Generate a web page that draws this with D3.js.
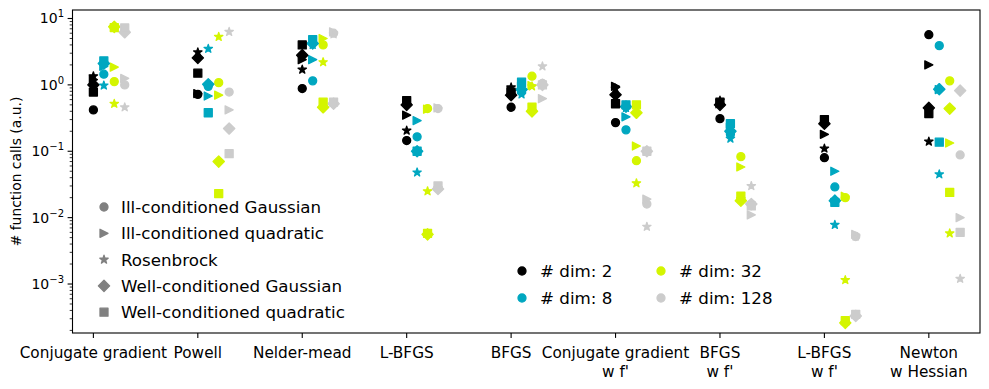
<!DOCTYPE html>
<html><head><meta charset="utf-8">
<script src="https://cdn.jsdelivr.net/npm/d3@7/dist/d3.min.js"></script>
<style>body{margin:0;background:#fff} text{font-family:"DejaVu Sans",sans-serif}</style>
</head><body><svg id="c" width="989" height="389"></svg>
<script>
const categories = ["Conjugate gradient","Powell","Nelder-mead","L-BFGS","BFGS","Conjugate gradient\nw f'","BFGS\nw f'","L-BFGS\nw f'","Newton\nw Hessian"];
const problems = ["Ill-conditioned Gaussian","Ill-conditioned quadratic","Rosenbrock","Well-conditioned Gaussian","Well-conditioned quadratic"];
const markers = ["circle","triangle","star","diamond","square"];
const dims = ["2","8","32","128"];
const dimColors = ["#000000","#00a7c0","#d4f500","#cccccc"];

// dim 2
const d2_gauss   = [0.42, 0.72, 0.88, 0.145, 0.46, 0.27, 0.31, 0.080, 5.7];
const d2_quad    = [1.2, 0.74, 2.4, 0.35, 0.82, 0.95, 0.52, 0.18, 2.0];
const d2_rosen   = [1.35, 3.1, 1.7, 0.205, 0.92, 0.88, 0.58, 0.11, 0.14];
const d2_wgauss  = [1.0, 2.55, 2.8, 0.50, 0.70, 0.71, 0.50, 0.26, 0.45];
const d2_wquad   = [0.78, 1.5, 4.0, 0.58, 0.78, 0.52, 0.55, 0.30, 0.37];
// dim 8
const d8_gauss   = [1.45, 0.95, 1.15, 0.165, 0.78, 0.21, 0.18, 0.029, 3.9];
const d8_quad    = [1.9, 0.68, 2.4, 0.29, 0.95, 0.33, 0.23, 0.050, 0.85];
const d8_rosen   = [0.98, 3.5, 4.0, 0.048, 0.72, 0.45, 0.155, 0.0078, 0.045];
const d8_wgauss  = [2.1, 1.02, 4.2, 0.10, 0.85, 0.47, 0.20, 0.018, 0.86];
const d8_wquad   = [2.3, 0.38, 4.8, 0.10, 1.1, 0.50, 0.26, 0.017, 0.137];
// dim 32
const d32_gauss  = [1.12, 1.08, 4.0, 0.44, 1.35, 0.072, 0.083, 0.020, 1.15];
const d32_quad   = [1.85, 0.70, 5.0, 0.43, 0.98, 0.12, 0.058, 0.021, 0.133];
const d32_rosen  = [0.52, 5.3, 2.2, 0.025, 0.95, 0.033, 0.019, 0.00115, 0.0058];
const d32_wgauss = [7.5, 0.07, 0.46, 0.0056, 0.40, 0.38, 0.018, 0.00026, 0.44];
const d32_wquad  = [7.3, 0.023, 0.55, 0.0058, 0.46, 0.50, 0.021, 0.00028, 0.024];
// dim 128
const d128_gauss  = [1.0, 0.78, 6.0, 0.44, 1.05, 0.016, 0.016, 0.0052, 0.088];
const d128_quad   = [1.25, 0.42, 6.3, 0.45, 0.62, 0.019, 0.011, 0.0056, 0.010];
const d128_rosen  = [0.46, 6.3, 5.8, 0.028, 1.9, 0.0073, 0.030, 0.0052, 0.0012];
const d128_wgauss = [6.2, 0.22, 0.52, 0.027, 1.0, 0.10, 0.016, 0.00033, 0.82];
const d128_wquad  = [7.2, 0.092, 0.55, 0.030, 1.0, 0.10, 0.015, 0.00035, 0.006];

const yTicks = [10, 1, 0.1, 0.01, 0.001];
const yTickExp = ["1","0","\u22121","\u22122","\u22123"];

const series = [
  [d2_gauss, d2_quad, d2_rosen, d2_wgauss, d2_wquad],
  [d8_gauss, d8_quad, d8_rosen, d8_wgauss, d8_wquad],
  [d32_gauss, d32_quad, d32_rosen, d32_wgauss, d32_wquad],
  [d128_gauss, d128_quad, d128_rosen, d128_wgauss, d128_wquad]
];

const L = 72.5, R = 980, T = 10, B = 333;
const svg = d3.select("#c");
const x = d3.scaleLinear().domain([-0.2, 8.49]).range([L, R]);
const y = d3.scaleLog().domain([Math.pow(10,-3.738), Math.pow(10,1.128)]).range([B, T]);
const dimOffset = 0.1;

const S = 8;
function markerPath(m){
  const h = S/2;
  if (m==="circle") return d3.path ? (()=>{const p=d3.path();p.arc(0,0,h,0,2*Math.PI);p.closePath();return p.toString();})() : "";
  if (m==="triangle") return `M${h},0L${-h},${-h}L${-h},${h}Z`;
  if (m==="square") return `M${-h},${-h}H${h}V${h}H${-h}Z`;
  if (m==="diamond"){ const d=h*Math.SQRT2; return `M0,${-d}L${d},0L0,${d}L${-d},0Z`; }
  if (m==="star"){
    const ro=h+0.4, ri=ro*0.381966; let pts=[];
    for(let i=0;i<10;i++){const r=i%2?ri:ro; const a=-Math.PI/2+i*Math.PI/5; pts.push([r*Math.cos(a), r*Math.sin(a)]);}
    return "M"+pts.map(p=>p[0].toFixed(2)+","+p[1].toFixed(2)).join("L")+"Z";
  }
}

// points
const pts = [];
markers.forEach((m, pi) => {
  dims.forEach((d, di) => {
    series[di][pi].forEach((v, ci) => pts.push({m, di, ci, v}));
  });
});
svg.append("g").selectAll("path").data(pts).join("path")
  .attr("d", d => markerPath(d.m))
  .attr("transform", d => `translate(${x(d.ci + d.di*dimOffset)},${y(d.v)})`)
  .attr("fill", d => dimColors[d.di])
  .attr("stroke", d => dimColors[d.di])
  .attr("stroke-width", 1.3)
  .attr("stroke-linejoin", "round");

// frame
svg.append("rect").attr("x", L).attr("y", T).attr("width", R-L).attr("height", B-T)
  .attr("fill","none").attr("stroke","#000").attr("stroke-width",1.1);

// y axis ticks
const gy = svg.append("g");
const minor = [];
for (let e=-4; e<=1; e++) for (let k=2;k<=9;k++){ const v=k*Math.pow(10,e); if (y(v)>=T && y(v)<=B) minor.push(v); }
gy.selectAll("line.mn").data(minor).join("line").attr("x1",L).attr("x2",L-2.8)
  .attr("y1",d=>y(d)).attr("y2",d=>y(d)).attr("stroke","#000").attr("stroke-width",0.8);
gy.selectAll("line.mj").data(yTicks).join("line").attr("x1",L).attr("x2",L-4.9)
  .attr("y1",d=>y(d)).attr("y2",d=>y(d)).attr("stroke","#000").attr("stroke-width",1.1);
const yl = gy.selectAll("text").data(yTicks).join("text")
  .attr("x", L-8.5).attr("y", d=>y(d)+5).attr("text-anchor","end").attr("font-size",14);
yl.append("tspan").text("10");
yl.append("tspan").attr("dy",-6).attr("font-size",10).text((d,i)=>yTickExp[i]);

// x axis ticks
const gx = svg.append("g");
gx.selectAll("line").data(categories).join("line")
  .attr("x1",(d,i)=>x(i)).attr("x2",(d,i)=>x(i)).attr("y1",B).attr("y2",B+4.9)
  .attr("stroke","#000").attr("stroke-width",1.1);
const xt = gx.selectAll("text").data(categories).join("text")
  .attr("x",(d,i)=>x(i)).attr("y",B+25).attr("text-anchor","middle").attr("font-size",15.3);
xt.selectAll("tspan").data(d=>d.split("\n")).join("tspan")
  .attr("x", function(){ return this.parentNode.getAttribute("x"); })
  .attr("dy",(d,i)=>i?18.5:0).text(d=>d);

// y label
svg.append("text").attr("transform",`translate(21,${(T+B)/2}) rotate(-90)`)
  .attr("text-anchor","middle").attr("font-size",13.9).text("# function calls (a.u.)");

// legend 1 (problems)
const lg1 = svg.append("g");
problems.forEach((p,i)=>{
  const yy = 207 + i*26.3;
  lg1.append("path").attr("d", markerPath(markers[i])).attr("transform",`translate(104,${yy})`)
    .attr("fill","#808080").attr("stroke","#808080").attr("stroke-width",1.3).attr("stroke-linejoin","round");
  lg1.append("text").attr("x",121).attr("y",yy+6).attr("font-size",16.7).text(p);
});

// legend 2 (dims)
const lg2 = svg.append("g");
dims.forEach((d,i)=>{
  const col = Math.floor(i/2), row = i%2;
  const xx = 522 + col*139, yy = 271 + row*27;
  lg2.append("path").attr("d", markerPath("circle")).attr("transform",`translate(${xx},${yy})`)
    .attr("fill",dimColors[i]).attr("stroke",dimColors[i]).attr("stroke-width",1.3);
  lg2.append("text").attr("x",xx+18).attr("y",yy+6).attr("font-size",16.7).text("# dim: "+d);
});
</script></body></html>
